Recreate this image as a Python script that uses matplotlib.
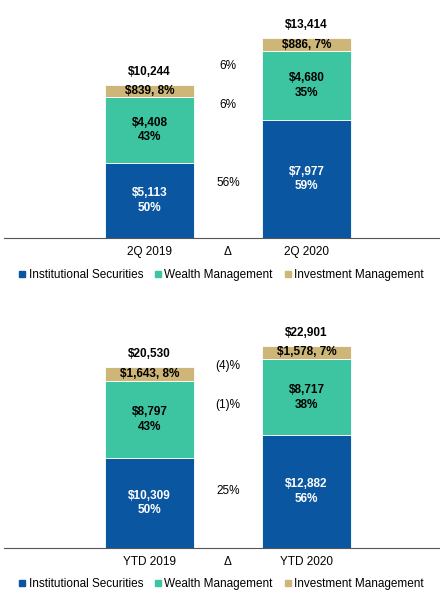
import matplotlib
matplotlib.use("Agg")
import matplotlib.pyplot as plt
from matplotlib.patches import Patch

plt.rcParams['font.family'] = ['Liberation Sans', 'DejaVu Sans']

segments = ["Institutional Securities", "Wealth Management", "Investment Management"]
colors = ["#0A56A0", "#3CC5A0", "#CDB677"]

top_periods = ["2Q 2019", "2Q 2020"]
top_values = [[5113, 4408, 839], [7977, 4680, 886]]
top_pcts = [["50%", "43%", "8%"], ["59%", "35%", "7%"]]
top_totals = ["$10,244", "$13,414"]
top_deltas = ["56%", "6%", "6%"]
top_delta_y = [3726, 9010, 11652]

bot_periods = ["YTD 2019", "YTD 2020"]
bot_values = [[10309, 8797, 1643], [12882, 8717, 1578]]
bot_pcts = [["50%", "43%", "8%"], ["56%", "38%", "7%"]]
bot_totals = ["$20,530", "$22,901"]
bot_deltas = ["25%", "(1)%", "(4)%"]
bot_delta_y = [6527, 16374, 20840]

W, H = 443, 606
fig = plt.figure(figsize=(W/100, H/100), dpi=100)

def panel(top_px, base_px, ymax, periods, values, pcts, totals, deltas, dys):
    ax = fig.add_axes([0.01, 1-base_px/H, 0.98, (base_px-top_px)/H])
    xs = [0, 2]
    for xi, vals, pc, tot in zip(xs, values, pcts, totals):
        bottom = 0
        for k, v in enumerate(vals):
            ax.bar(xi, v, bottom=bottom, width=1.125, color=colors[k], edgecolor='white', linewidth=0.6)
            c = bottom + v/2
            col = 'white' if k == 0 else 'black'
            if k < 2:
                ax.text(xi, c, f"${v:,}\n{pc[k]}", ha='center', va='center', color=col,
                        fontsize=8.5, fontweight='bold', linespacing=1.3)
            else:
                ax.text(xi, c, f"${v:,}, {pc[k]}", ha='center', va='center', color=col,
                        fontsize=8.5, fontweight='bold')
            bottom += v
        ax.text(xi, bottom + ymax*0.03, tot, ha='center', va='bottom', fontsize=8.5, fontweight='bold')
    for d, y in zip(deltas, dys):
        ax.text(1, y, d, ha='center', va='center', fontsize=8.5)
    ax.set_xlim(-145/78.5, (434-145)/78.5)
    ax.set_ylim(0, ymax)
    ax.set_xticks([0, 1, 2])
    ax.set_xticklabels([periods[0], "Δ", periods[1]], fontsize=8.5)
    ax.tick_params(length=0, pad=6)
    ax.set_yticks([])
    for s in ['top', 'right', 'left']:
        ax.spines[s].set_visible(False)
    ax.spines['bottom'].set_color('#555555')
    ax.spines['bottom'].set_linewidth(0.8)
    handles = [Patch(color=c) for c in colors]
    ax.legend(handles, segments, loc='upper center', bbox_to_anchor=(0.5, -0.09), ncol=3,
              frameon=False, fontsize=8.5, handlelength=0.5, handleheight=0.5,
              handletextpad=0.3, columnspacing=1.0)
    return ax

panel(10, 238, 13414*228/198, top_periods, top_values, top_pcts, top_totals, top_deltas, top_delta_y)
panel(330, 548, 22901*218/200, bot_periods, bot_values, bot_pcts, bot_totals, bot_deltas, bot_delta_y)

fig.savefig("out.png", dpi=100, facecolor='white')
